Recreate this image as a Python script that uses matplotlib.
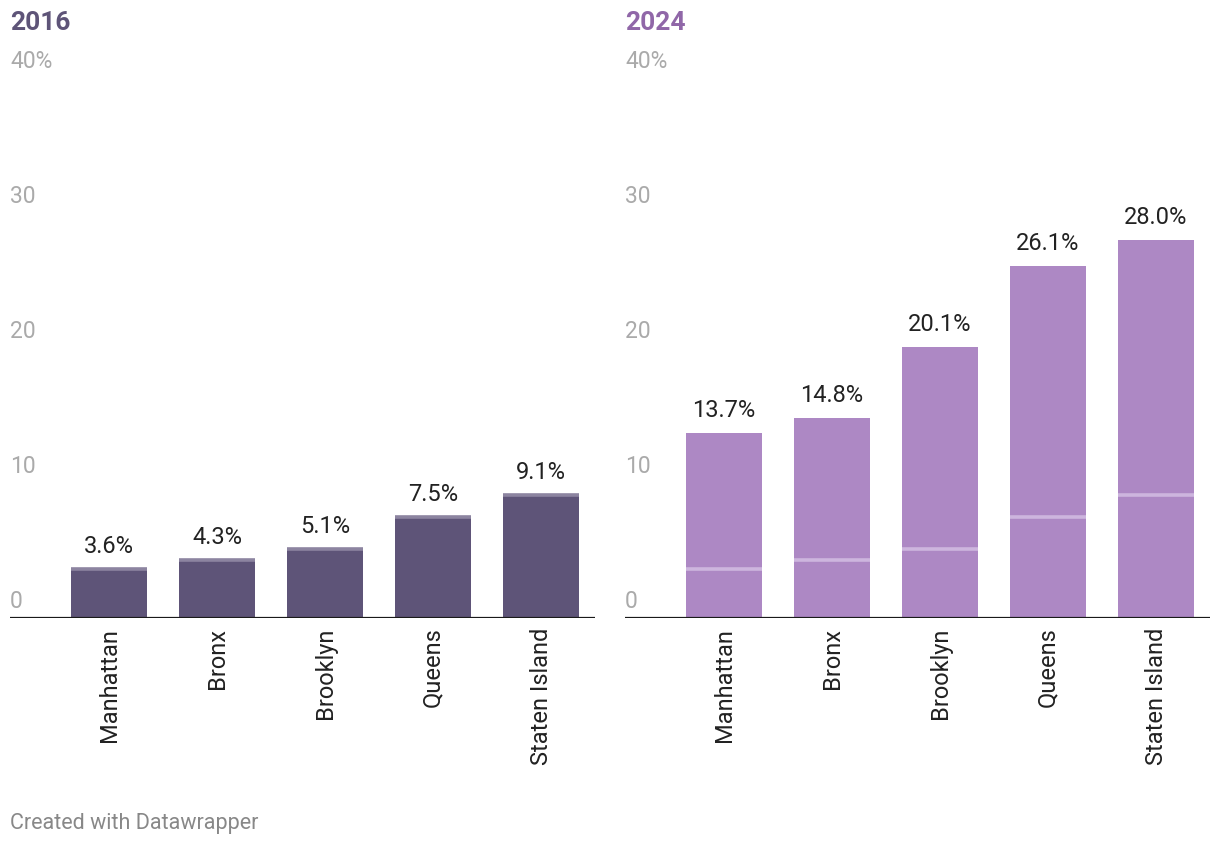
import numpy as np
import matplotlib.pyplot as plt
from matplotlib.transforms import blended_transform_factory

plt.rcParams['font.family'] = ['Roboto', 'DejaVu Sans']

# Share of residents (%) by borough
boroughs = ["Manhattan", "Bronx", "Brooklyn", "Queens", "Staten Island"]
values_2016 = [3.6, 4.3, 5.1, 7.5, 9.1]
values_2024 = [13.7, 14.8, 20.1, 26.1, 28.0]
y_ticks = [0, 10, 20, 30, 40]
y_tick_labels = ["0", "10", "20", "30", "40%"]

W, H = 1220, 846
fig = plt.figure(figsize=(W / 100, H / 100), dpi=100)


def panel(left_px, values, bar_color, marker_color, title, title_color):
    ax = fig.add_axes([left_px / W, (H - 618) / H, 585 / W, 540 / H])
    x = np.arange(len(boroughs))
    ax.bar(x, values, width=0.704, color=bar_color, zorder=2)

    # marker for the 2016 value on every bar
    ax.hlines(values_2016, x - 0.352, x + 0.352, color=marker_color,
              lw=2.6, zorder=3)

    for xi, v in zip(x, values):
        ax.annotate(f"{v:.1f}%", (xi, v), xytext=(0, 11),
                    textcoords="offset pixels", ha="center", va="bottom",
                    fontsize=17, color="#222222")

    ax.set_xlim(-0.917, 4.5)
    ax.set_ylim(0, 40)
    ax.set_yticks([])
    ax.set_xticks(x)
    ax.set_xticklabels(boroughs, rotation=90)
    ax.tick_params(axis="x", length=0, pad=7, labelsize=17,
                   labelcolor="#222222")
    for s in ax.spines.values():
        s.set_visible(False)
    ax.axhline(0, color="#1a1a1a", lw=1.6, zorder=4)

    trans = blended_transform_factory(ax.transAxes, ax.transData)
    for t, lab in zip(y_ticks, y_tick_labels):
        ax.annotate(lab, (0, t), xycoords=trans, xytext=(0, 5),
                    textcoords="offset pixels", ha="left", va="bottom",
                    fontsize=16.5, color="#aaaaaa")

    fig.text(left_px / W, 1 - 23 / H, title, ha="left", va="center",
             fontsize=19, fontweight="bold", color=title_color)
    return ax


panel(10, values_2016, "#5e5478", "#8c84a0", "2016", "#5e5478")
panel(625, values_2024, "#ad88c4", "#cdb5de", "2024", "#9067a8")

fig.text(10 / W, 1 - 823 / H, "Created with Datawrapper", ha="left",
         va="center", fontsize=15.5, color="#888888")

fig.savefig("out.png", dpi=100)
